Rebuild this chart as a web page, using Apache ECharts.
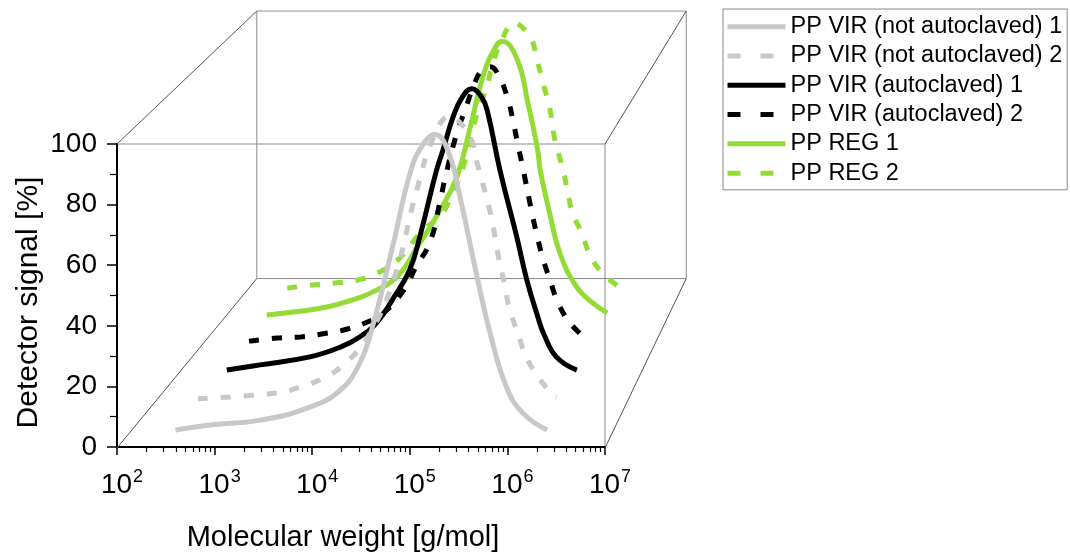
<!DOCTYPE html>
<html>
<head>
<meta charset="utf-8">
<script src="https://cdn.jsdelivr.net/npm/echarts@6/dist/echarts.min.js"></script>
<style>html,body{margin:0;padding:0;background:#fff}#c{width:1070px;height:557px}</style>
</head>
<body>
<div id="c"></div>
<script>
// ---- data (molecular weight g/mol, detector signal %) ----
const seriesNames = ['PP VIR (not autoclaved) 1','PP VIR (not autoclaved) 2','PP VIR (autoclaved) 1','PP VIR (autoclaved) 2','PP REG 1','PP REG 2'];
const mwVirNA1 = [295,676,2240,7410,15100,24000,33100,53700,79400,105000,145000,200000,263000,398000,537000,794000,1170000,2090000];
const sigVirNA1 = [0.7,2.4,4,8.4,14,23,36,63,86,95,99,93,78,51,33,15,6.4,0.7];
const mwVirNA2 = [282,1950,3390,6030,9770,17800,33100,58900,89100,132000,178000,229000,257000,355000,427000,501000,562000,692000,832000,1100000,1620000,1780000];
const sigVirNA2 = [0.9,2.9,4.9,8,12.4,22,41,72,90,97,94,88,81,64,50,39.6,31.8,23.3,15.8,9,2.2,1.5];
const mwVirA1 = [324,741,2570,5500,8910,13800,20000,30900,39800,60300,70800,91200,115000,146000,186000,214000,295000,447000,575000,759000,871000,1200000,2000000];
const sigVirA1 = [0.7,2.5,5.3,8.7,12.2,17.4,25,35.5,47,70,77,88.6,95.6,98.5,95.6,91,70,47,32,19,13.5,5.3,0.7];
const mwVirA2 = [324,661,1200,2140,3980,6610,10000,17400,22400,32400,41700,47900,64600,79400,100000,120000,151000,186000,234000,269000,302000,339000,437000,501000,575000,692000,851000,1150000,1780000];
const sigVirA2 = [1,2.1,2.5,3.6,5.3,7.8,11,20,27,36,50,59,75,83,92,97,98.4,95.5,87.4,79.5,71.4,64,46.5,38,30.5,22.7,14.6,7.5,1.4];
const mwReg1 = [295,589,1410,2750,4680,8710,14800,26900,41700,58900,81300,105000,135000,200000,263000,339000,363000,468000,603000,933000,1380000,2070000];
const sigReg1 = [0.7,1.8,3.6,6.2,9.1,14.5,25.4,38.8,51,69,87,96,100,93.2,77.6,60.5,53,37,23.2,10.9,5.4,1.5];
const mwReg2 = [295,589,1050,1910,3160,5890,10000,18200,23400,30200,40700,46800,58900,69200,91200,120000,186000,224000,257000,316000,359000,447000,507000,575000,733000,912000,1260000,2000000];
const sigReg2 = [1.1,2.3,3,4.1,6.5,12.3,21.4,28.9,36.2,44,59.6,67,75.5,84.4,94,99.2,94,85.5,78,67,56,44.8,36.3,28.8,21.4,13.4,6.7,1.5];
const xMin = 100, xMax = 10000000;
const yMin = 0, yMax = 100, yStep = 20;

const mwList = [mwVirNA1,mwVirNA2,mwVirA1,mwVirA2,mwReg1,mwReg2];
const sigList = [sigVirNA1,sigVirNA2,sigVirA1,sigVirA2,sigReg1,sigReg2];

// ---- styles / layout ----
const colors = ['#c8c8c8','#c8c8c8','#000000','#000000','#94dc35','#94dc35'];
const dashed = [false,true,false,true,false,true];
const FONT = 'Liberation Sans, Arial, sans-serif';
const VP = [1282,-964];                       // vanishing point of the pseudo-3D box
const FRONT = {left:117, top:144, width:488, height:304};
const BACK_SCALE = 0.88;
const persp = (1/BACK_SCALE) - 1;
function rectAt(s){
  return {left: VP[0]+(FRONT.left-VP[0])*s, top: VP[1]+(FRONT.top-VP[1])*s,
          width: FRONT.width*s, height: FRONT.height*s};
}
const back = rectAt(BACK_SCALE);

const grids = [], xAxes = [], yAxes = [], series = [];
grids.push(Object.assign({show:true, borderColor:'#8a8a8a', borderWidth:1, backgroundColor:'transparent'}, FRONT));
grids.push(Object.assign({show:true, borderColor:'#8a8a8a', borderWidth:1, backgroundColor:'transparent'}, back));

xAxes.push({
  type:'log', logBase:10, min:xMin, max:xMax, gridIndex:0, position:'bottom',
  axisLine:{show:true, lineStyle:{color:'#000', width:2}},
  axisTick:{show:true, length:8, lineStyle:{color:'#000', width:1.5}},
  splitLine:{show:false},
  axisLabel:{margin:21, color:'#000', fontFamily:FONT, padding:[0,0,0,10],
    formatter:v => '{a|10}{b|' + Math.round(Math.log10(v)) + '}',
    rich:{a:{fontSize:28, fontFamily:FONT, color:'#000'},
          b:{fontSize:18, fontFamily:FONT, color:'#000', padding:[0,0,17,1]}}},
  name:'Molecular weight [g/mol]', nameLocation:'middle', nameGap:76,
  nameTextStyle:{fontSize:29, fontFamily:FONT, color:'#000', padding:[0,36,0,0]}
});
const minorLogs = [];
for (let d = 2; d < 7; d++) for (let m = 2; m <= 9; m++) minorLogs.push(d + Math.log10(m));
xAxes.push({
  type:'value', min:2, max:7, gridIndex:0, position:'bottom',
  axisLine:{show:false}, axisLabel:{show:false}, splitLine:{show:false},
  axisTick:{show:true, length:5, customValues:minorLogs, lineStyle:{color:'#000', width:1.2}}
});
yAxes.push({
  type:'value', min:yMin, max:yMax, interval:yStep, gridIndex:0,
  axisLine:{show:true, lineStyle:{color:'#000', width:2}},
  axisTick:{show:true, length:10, lineStyle:{color:'#000', width:1.5}},
  minorTick:{show:true, splitNumber:2, length:7, lineStyle:{color:'#000', width:1.2}},
  splitLine:{show:false},
  axisLabel:{margin:20, fontSize:28, fontFamily:FONT, color:'#000'},
  name:'Detector signal [%]', nameLocation:'middle', nameGap:73,
  nameTextStyle:{fontSize:30, fontFamily:FONT, color:'#000', padding:[0,14,0,0]}
});
xAxes.push({type:'log', logBase:10, min:xMin, max:xMax, gridIndex:1, show:false});
yAxes.push({type:'value', min:yMin, max:yMax, gridIndex:1, show:false});

for (let k = 0; k < 6; k++) {
  const depth = (k + 0.5) / 6;
  const s = 1 / (1 + persp * depth);
  const r = rectAt(s);
  grids.push(Object.assign({show:false}, r));
  const gi = grids.length - 1;
  xAxes.push({type:'log', logBase:10, min:xMin, max:xMax, gridIndex:gi, show:false});
  yAxes.push({type:'value', min:yMin, max:yMax, gridIndex:gi, show:false});
  series.push({
    name: seriesNames[k], type:'line',
    xAxisIndex: xAxes.length - 1, yAxisIndex: yAxes.length - 1,
    data: mwList[k].map((m,i) => [m, sigList[k][i]]),
    showSymbol:false, symbol:'none', smooth:0.45, z: 20 - k,
    lineStyle:{color:colors[k], width:5, type: dashed[k] ? [10,13] : 'solid', cap:'butt'},
    itemStyle:{color:colors[k]},
    animation:false, silent:true
  });
}

const F = FRONT, B = back;
const corners = [
  [[F.left, F.top],[B.left, B.top]],
  [[F.left+F.width, F.top],[B.left+B.width, B.top]],
  [[F.left, F.top+F.height],[B.left, B.top+B.height]],
  [[F.left+F.width, F.top+F.height],[B.left+B.width, B.top+B.height]]
];
const graphic = corners.map(c => ({
  type:'line', z:1, silent:true,
  shape:{x1:c[0][0], y1:c[0][1], x2:c[1][0], y2:c[1][1]},
  style:{stroke:'#555', lineWidth:1}
}));

const chart = echarts.init(document.getElementById('c'), null, {renderer:'canvas'});
chart.setOption({
  animation:false,
  backgroundColor:'#fff',
  grid: grids, xAxis: xAxes, yAxis: yAxes, series: series, graphic: graphic,
  legend:{
    orient:'vertical', left:723, top:9,
    borderColor:'#8a8a8a', borderWidth:1, borderRadius:0,
    padding:[3,5,2,2], itemGap:0, itemWidth:58, itemHeight:6,
    textStyle:{fontSize:23.5, fontFamily:FONT, color:'#000', lineHeight:29.3},
    data: seriesNames.map((n,k) => ({
      name:n,
      itemStyle:{opacity:0},
      lineStyle:{type: dashed[k] ? [13,20] : 'solid', width:5, color:colors[k]}
    }))
  }
});
</script>
</body>
</html>
